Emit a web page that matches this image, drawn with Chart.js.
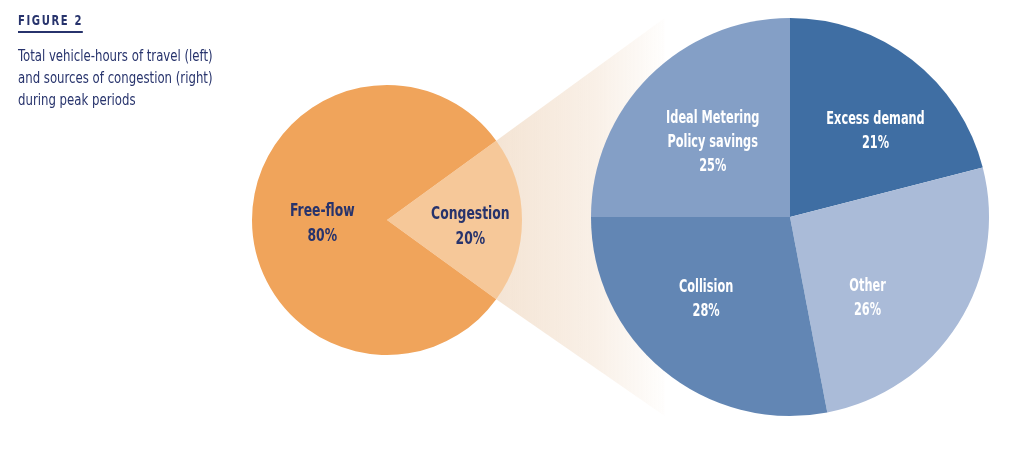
<!DOCTYPE html>
<html>
<head>
<meta charset="utf-8">
<script src="https://cdn.jsdelivr.net/npm/chart.js@4.4.1/dist/chart.umd.min.js"></script>
<style>
    body { margin: 0; background: #fff; width: 1024px; height: 470px; overflow: hidden; position: relative; }
    canvas { position: absolute; left: 0; top: 0; }
    #leftChart { z-index: 2; }
    #rightChart { z-index: 1; }
    .caption { position: absolute; left: 18px; top: 10px; z-index: 3; color: #27336c; font-family: "Liberation Sans Narrow", "DejaVu Sans Condensed", sans-serif; transform-origin: 0 0; }
    .fig { font-weight: bold; font-size: 14px; letter-spacing: 2px; padding-bottom: 3px; border-bottom: 2px solid #27336c; display: inline-block; transform: scaleX(0.8); transform-origin: 0 0; }
    .sub { margin-top: 12px; font-size: 15px; line-height: 22px; transform: scaleX(0.87); transform-origin: 0 0; white-space: nowrap; }
</style>
</head>
<body>
<div class="caption">
    <div class="fig">FIGURE 2</div>
    <div class="sub">Total vehicle-hours of travel (left)<br>and sources of congestion (right)<br>during peak periods</div>
</div>
<canvas id="rightChart" width="1024" height="470"></canvas>
<canvas id="leftChart" width="1024" height="470"></canvas>
<script>
// left pie: share of travel time
const leftLabels = ["Congestion", "Free-flow"];
const leftValues = [20, 80];
const leftColors = ["#f6c899", "#f0a45b"];

// right pie: sources of congestion
const rightLabels = ["Excess demand", "Other", "Collision", "Ideal Metering\nPolicy savings"];
const rightValues = [21, 26, 28, 25];
const rightColors = ["#3f6ea3", "#aabbd8", "#6286b4", "#849fc6"];

const labelFont = '"Liberation Sans Narrow", "DejaVu Sans Condensed", sans-serif';

// draws "label / value%" inside each slice (squeezed to look like a condensed face)
const sliceLabels = {
    id: "sliceLabels",
    afterDatasetsDraw(chart, args, opts) {
        const ctx = chart.ctx;
        const meta = chart.getDatasetMeta(0);
        const labels = chart.data.labels;
        const values = chart.data.datasets[0].data;
        ctx.save();
        ctx.fillStyle = opts.color;
        ctx.font = "bold " + opts.size + "px " + labelFont;
        ctx.textAlign = "center";
        ctx.textBaseline = "middle";
        meta.data.forEach((arc, i) => {
            const p = opts.pos[i];
            const mid = (arc.startAngle + arc.endAngle) / 2 + p.turn * Math.PI / 180;
            const cx = arc.x + Math.cos(mid) * arc.outerRadius * p.r;
            const cy = arc.y + Math.sin(mid) * arc.outerRadius * p.r;
            const lines = labels[i].split("\n").concat([values[i] + "%"]);
            const top = cy - (lines.length - 1) * opts.lineHeight / 2;
            lines.forEach((line, j) => {
                ctx.save();
                ctx.translate(cx, top + j * opts.lineHeight);
                ctx.scale(opts.squeeze, 1);
                ctx.fillText(line, 0, 0);
                ctx.restore();
            });
        });
        ctx.restore();
    }
};

const leftChart = new Chart(document.getElementById("leftChart"), {
    type: "pie",
    data: {
        labels: leftLabels,
        datasets: [{ data: leftValues, backgroundColor: leftColors, borderWidth: 0 }]
    },
    options: {
        responsive: false,
        animation: false,
        rotation: 54,
        layout: { padding: { left: 252, right: 502, top: 85, bottom: 115 } },
        plugins: {
            legend: { display: false },
            tooltip: { enabled: false },
            sliceLabels: {
                color: "#27336c", size: 17, lineHeight: 25, squeeze: 0.81,
                pos: [{ r: 0.62, turn: 5 }, { r: 0.48, turn: -3.6 }]
            }
        }
    },
    plugins: [sliceLabels]
});

// fading wedge that links the congestion slice to the right pie
const funnel = {
    id: "funnel",
    beforeDatasetsDraw(chart) {
        const src = leftChart.getDatasetMeta(0).data[0];
        const dst = chart.getDatasetMeta(0).data[0];
        const R = dst.outerRadius;
        const x1 = src.x + Math.cos(src.startAngle) * src.outerRadius;
        const y1 = src.y + Math.sin(src.startAngle) * src.outerRadius;
        const x2 = src.x + Math.cos(src.endAngle) * src.outerRadius;
        const y2 = src.y + Math.sin(src.endAngle) * src.outerRadius;
        const xr = dst.x - 0.63 * R;
        const ctx = chart.ctx;
        const grad = ctx.createLinearGradient(x1, 0, xr, 0);
        grad.addColorStop(0, "rgba(228,188,148,0.4)");
        grad.addColorStop(0.6, "rgba(228,188,148,0.22)");
        grad.addColorStop(1, "rgba(228,188,148,0.02)");
        ctx.save();
        ctx.beginPath();
        ctx.moveTo(x1, y1);
        ctx.lineTo(xr, dst.y - 1.0 * R);
        ctx.lineTo(xr, dst.y + 1.0 * R);
        ctx.lineTo(x2, y2);
        ctx.closePath();
        ctx.fillStyle = grad;
        ctx.fill();
        ctx.restore();
    }
};

const rightChart = new Chart(document.getElementById("rightChart"), {
    type: "pie",
    data: {
        labels: rightLabels,
        datasets: [{ data: rightValues, backgroundColor: rightColors, borderWidth: 0 }]
    },
    options: {
        responsive: false,
        animation: false,
        rotation: 0,
        layout: { padding: { left: 591, right: 35, top: 18, bottom: 54 } },
        plugins: {
            legend: { display: false },
            tooltip: { enabled: false },
            sliceLabels: {
                color: "#ffffff", size: 18, lineHeight: 24, squeeze: 0.7,
                pos: [{ r: 0.61, turn: 7 }, { r: 0.565, turn: 14 }, { r: 0.59, turn: 6 }, { r: 0.54, turn: -1 }]
            }
        }
    },
    plugins: [funnel, sliceLabels]
});
</script>
</body>
</html>
